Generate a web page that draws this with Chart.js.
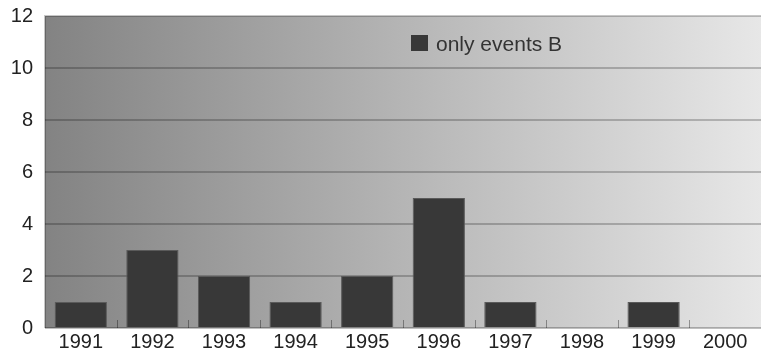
<!DOCTYPE html>
<html>
<head>
<meta charset="utf-8">
<script src="https://cdn.jsdelivr.net/npm/chart.js@4"></script>
<style>
  html, body { margin: 0; padding: 0; background: #ffffff; }
  #wrap { width: 761px; height: 360px; position: relative; }
</style>
</head>
<body>
<div id="wrap"><canvas id="c"></canvas></div>
<script>
// Yearly counts
const years = ['1991', '1992', '1993', '1994', '1995', '1996', '1997', '1998', '1999', '2000'];
const onlyEventsB = [1, 3, 2, 1, 2, 5, 1, 0, 1, 0];
const seriesLabel = 'only events B';
const yTicks = [0, 2, 4, 6, 8, 10, 12];

const FONT = '"Liberation Sans", Arial, Helvetica, sans-serif';
const BAR_COLOR = '#383838';

// Horizontal grey gradient behind the plot, plus a thin frame
const plotBackground = {
  id: 'plotBackground',
  beforeDraw(chart) {
    const { ctx, chartArea: a } = chart;
    const g = ctx.createLinearGradient(a.left, 0, a.right, 0);
    g.addColorStop(0, '#838383');
    g.addColorStop(1, '#e7e7e7');
    ctx.save();
    ctx.fillStyle = g;
    ctx.fillRect(a.left, a.top, a.right - a.left, a.bottom - a.top);
    ctx.restore();
  },
  afterDatasetsDraw(chart) {
    const { ctx, chartArea: a, scales } = chart;
    ctx.save();
    // frame on top and left
    ctx.strokeStyle = 'rgba(0,0,0,0.22)';
    ctx.lineWidth = 2;
    ctx.beginPath();
    ctx.moveTo(a.left, a.bottom);
    ctx.lineTo(a.left, a.top);
    ctx.lineTo(a.right, a.top);
    ctx.stroke();
    // baseline
    ctx.strokeStyle = 'rgba(0,0,0,0.25)';
    ctx.beginPath();
    ctx.moveTo(a.left, a.bottom);
    ctx.lineTo(a.right, a.bottom);
    ctx.stroke();
    // short category separators rising from the baseline
    const x = scales.x;
    ctx.strokeStyle = 'rgba(0,0,0,0.35)';
    ctx.lineWidth = 1;
    for (let i = 1; i < years.length; i++) {
      const px = Math.round((x.getPixelForValue(i - 1) + x.getPixelForValue(i)) / 2) + 0.5;
      ctx.beginPath();
      ctx.moveTo(px, a.bottom);
      ctx.lineTo(px, a.bottom - 8);
      ctx.stroke();
    }
    ctx.restore();
  },
  afterDraw(chart) {
    // legend inside the plot area
    const { ctx } = chart;
    const ds = chart.data.datasets[0];
    ctx.save();
    ctx.fillStyle = ds.backgroundColor;
    ctx.fillRect(411, 35, 17, 16);
    ctx.font = '21px ' + FONT;
    ctx.fillStyle = '#333333';
    ctx.textBaseline = 'alphabetic';
    ctx.textAlign = 'left';
    ctx.fillText(ds.label, 436, 51);
    ctx.restore();
  }
};

new Chart(document.getElementById('c'), {
  type: 'bar',
  data: {
    labels: years,
    datasets: [{
      label: seriesLabel,
      data: onlyEventsB,
      backgroundColor: BAR_COLOR,
      borderColor: '#5a5a5a',
      borderWidth: 1,
      barPercentage: 0.73,
      categoryPercentage: 1.0
    }]
  },
  options: {
    responsive: true,
    maintainAspectRatio: false,
    animation: false,
    layout: { padding: { top: 16, right: 0, left: 0, bottom: 0 } },
    plugins: {
      legend: { display: false },
      tooltip: { enabled: false }
    },
    scales: {
      x: {
        offset: true,
        grid: { display: false, drawTicks: false },
        border: { display: false },
        ticks: {
          color: '#222222',
          font: { family: FONT, size: 20 },
          padding: 2,
          maxRotation: 0
        },
        afterFit(scale) {
          scale.height = 32;
          scale.paddingLeft = 0;
          scale.paddingRight = 0;
        }
      },
      y: {
        min: 0,
        max: 12,
        afterBuildTicks(scale) { scale.ticks = yTicks.map(v => ({ value: v })); },
        grid: {
          color: (c) => (c.tick && (c.tick.value === 0 || c.tick.value === 12)) ? 'rgba(0,0,0,0)' : 'rgba(0,0,0,0.22)',
          lineWidth: 2,
          drawTicks: false
        },
        border: { display: false },
        ticks: {
          color: '#222222',
          font: { family: FONT, size: 20 },
          padding: 12
        },
        afterFit(scale) {
          scale.width = 45;
          scale.paddingTop = 0;
          scale.paddingBottom = 0;
        }
      }
    }
  },
  plugins: [plotBackground]
});
</script>
</body>
</html>
